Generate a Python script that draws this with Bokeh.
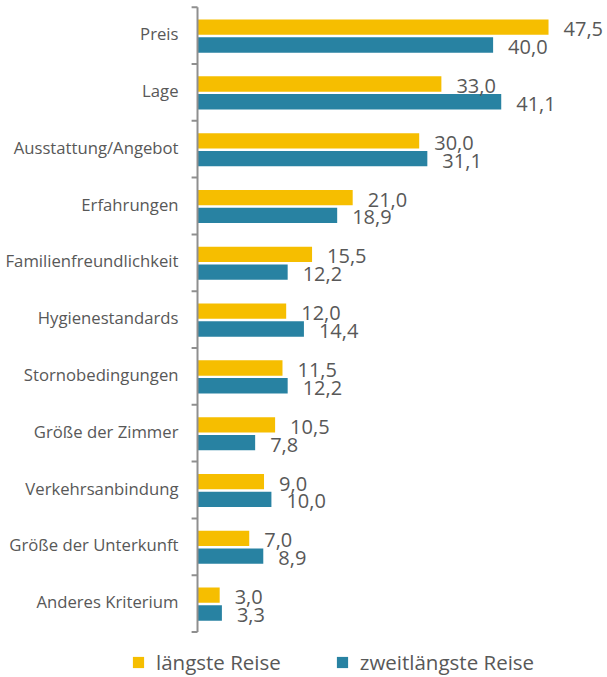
from bokeh.plotting import figure
from bokeh.models import Range1d, ColumnDataSource, Legend, LegendItem
from bokeh.core.properties import value
from bokeh.embed import file_html
from bokeh.resources import INLINE

categories = ["Preis", "Lage", "Ausstattung/Angebot", "Erfahrungen",
              "Familienfreundlichkeit", "Hygienestandards", "Stornobedingungen",
              "Größe der Zimmer", "Verkehrsanbindung", "Größe der Unterkunft",
              "Anderes Kriterium"]
laengste = [47.5, 33.0, 30.0, 21.0, 15.5, 12.0, 11.5, 10.5, 9.0, 7.0, 3.0]
zweitlaengste = [40.0, 41.1, 31.1, 18.9, 12.2, 14.4, 12.2, 7.8, 10.0, 8.9, 3.3]
series_names = ["längste Reise", "zweitlängste Reise"]

YELLOW = "#F6BE00"
TEAL = "#2882A2"
TEXT = "#585858"
AXIS = "#8F8F8F"
FONT = "Open Sans"

n = len(categories)
pos = [-i for i in range(n)]

def fmt(v):
    return f"{v:.1f}".replace(".", ",")

src = ColumnDataSource(dict(
    cat=categories,
    pos=pos,
    y1=[p + 0.148 for p in pos],
    y2=[p - 0.165 for p in pos],
    v1=laengste,
    v2=zweitlaengste,
    t1=[fmt(v) for v in laengste],
    t2=[fmt(v) for v in zweitlaengste],
    zero=[0] * n,
))

p = figure(width=607, height=677, output_backend="svg", toolbar_location=None,
           x_range=Range1d(-26.66, 55.48), y_range=Range1d(-11.301, 0.618),
           x_axis_location=None, y_axis_location=None, min_border=0)
p.grid.visible = False
p.outline_line_color = None
p.background_fill_color = "white"

r1 = p.hbar(y="y1", right="v1", left=0, height=0.27, source=src,
            fill_color=YELLOW, line_color=None)
r2 = p.hbar(y="y2", right="v2", left=0, height=0.27, source=src,
            fill_color=TEAL, line_color=None)

# axis line and boundary ticks
bounds = [0.5 - k for k in range(n + 1)]
p.segment(x0=0, x1=0, y0=bounds[0], y1=bounds[-1], line_color=AXIS, line_width=2)
p.segment(x0=[-0.8] * len(bounds), x1=[0] * len(bounds), y0=bounds, y1=bounds,
          line_color=AXIS, line_width=2)

# category labels
p.text(x="zero", y="pos", text="cat", source=src, x_offset=-19, y_offset=-2,
       text_align="right", text_baseline="middle", text_font=value(FONT),
       text_font_size="16.7px", text_color=TEXT)

# value labels
p.text(x="v1", y="y1", text="t1", source=src, x_offset=15, y_offset=2,
       text_align="left", text_baseline="middle", text_font=value(FONT),
       text_font_size="20px", text_color=TEXT)
p.text(x="v2", y="y2", text="t2", source=src, x_offset=15, y_offset=2,
       text_align="left", text_baseline="middle", text_font=value(FONT),
       text_font_size="20px", text_color=TEXT)

legend = Legend(items=[LegendItem(label=series_names[0], renderers=[r1]),
                       LegendItem(label=series_names[1], renderers=[r2])],
                location=(131, 1), orientation="horizontal",
                glyph_width=14, glyph_height=14, label_height=14,
                label_standoff=11, spacing=54, padding=0, margin=0,
                label_text_font=FONT, label_text_font_size="20.5px",
                label_text_color=TEXT, border_line_color=None,
                background_fill_alpha=0)
p.add_layout(legend)

open("out.html", "w").write(file_html(p, INLINE))
